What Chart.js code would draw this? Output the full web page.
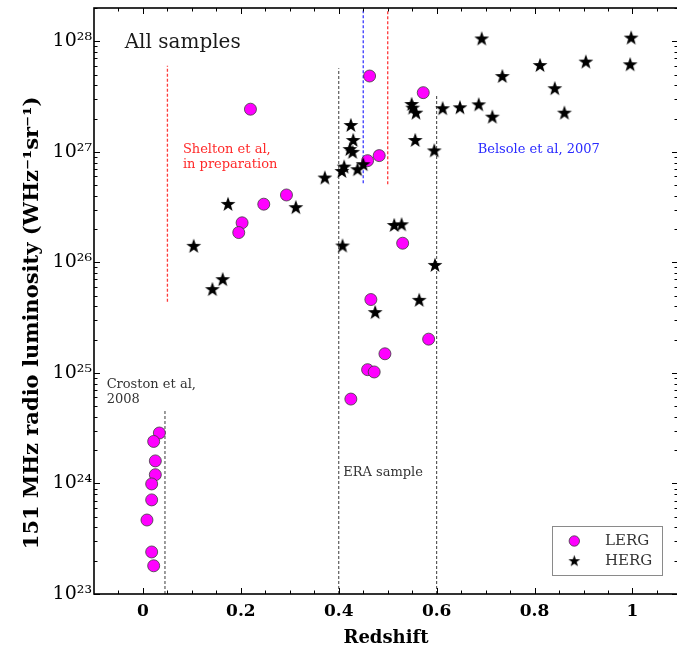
<!DOCTYPE html>
<html><head><meta charset="utf-8">
<script src="https://cdn.jsdelivr.net/npm/chart.js@4/dist/chart.umd.min.js"></script>
<style>html,body{margin:0;padding:0;overflow:hidden;background:#fff;width:677px;height:650px}</style>
</head><body>
<canvas id="c" width="690" height="650" style="display:block;width:690px;height:650px"></canvas>
<script>
// ---- data ----
const seriesNames = ['LERG', 'HERG'];
const lergZ = [0.2196, 0.2468, 0.2932, 0.2025, 0.1957,
  0.463, 0.5726, 0.4589, 0.4826, 0.5305, 0.4656, 0.5836, 0.4943, 0.4589, 0.4724, 0.4247,
  0.0335, 0.0219, 0.0253, 0.0253, 0.0178, 0.0178, 0.0082, 0.0178, 0.0219];
const lergL = [2.43e27, 3.36e26, 4.07e26, 2.28e26, 1.86e26,
  4.85e27, 3.43e27, 8.32e26, 9.24e26, 1.49e26, 4.61e25, 2.02e25, 1.49e25, 1.07e25, 1.02e25, 5.8e24,
  2.86e24, 2.40e24, 1.60e24, 1.20e24, 9.9e23, 7.1e23, 4.67e23, 2.40e23, 1.80e23];
const hergZ = [0.1738, 0.3123, 0.1037, 0.163, 0.1419, 0.3716,
  0.692, 0.9973, 0.9953, 0.9047, 0.8112, 0.7342, 0.8413, 0.861, 0.7137, 0.6859, 0.6476, 0.6122,
  0.5489, 0.5509, 0.5577, 0.5562, 0.5951, 0.4247, 0.4295, 0.4227, 0.4282, 0.4499, 0.4384, 0.411,
  0.4063, 0.5133, 0.5284, 0.4077, 0.5965, 0.5644, 0.4744];
const hergL = [3.38e26, 3.16e26, 1.41e26, 7.05e25, 5.73e25, 5.85e26,
  1.06e28, 1.08e28, 6.19e27, 6.55e27, 6.1e27, 4.85e27, 3.76e27, 2.26e27, 2.08e27, 2.69e27, 2.53e27, 2.48e27,
  2.71e27, 2.51e27, 2.26e27, 1.28e27, 1.03e27, 1.75e27, 1.28e27, 1.06e27, 1.0e27, 7.73e26, 6.96e26, 7.35e26,
  6.71e26, 2.18e26, 2.21e26, 1.42e26, 9.48e25, 4.58e25, 3.55e25];
const xTickValues = [0, 0.2, 0.4, 0.6, 0.8, 1];
const xTickLabels = ['0', '0.2', '0.4', '0.6', '0.8', '1'];
const yTickValues = [1e23, 1e24, 1e25, 1e26, 1e27, 1e28];
const yTickLabels = ['10²³', '10²⁴', '10²⁵', '10²⁶', '10²⁷', '10²⁸'];
// sample boundary lines: redshift, luminosity from, luminosity to
const refLineZ    = [0.05,   0.5,    0.45,   0.4,    0.6,    0.045];
const refLineFrom = [4.4e25, 5.1e26, 5.2e26, 1e23,   1e23,   1e23];
const refLineTo   = [6e27,   1.9e28, 1.9e28, 5.7e27, 3.2e27, 4.7e24];
// text labels: text lines, redshift, luminosity
const noteText = [['All samples'], ['Shelton et al,', 'in preparation'], ['Belsole et al, 2007'], ['Croston et al,', '2008'], ['ERA sample']];
const noteZ = [-0.0374, 0.0816, 0.6838, -0.0742, 0.409];
const noteL = [9.6e27, 1.04e27, 1.04e27, 7.8e24, 1.25e24];

// ---- styles ----
const refLineColor = ['#ff3a3a', '#ff3a3a', '#3a3aff', '#3a3a3a', '#3a3a3a', '#3a3a3a'];
const refLineWidth = [1.3, 1.3, 1.3, 1, 1, 1];
const noteColor = ['#1a1a1a', '#ff2a2a', '#2a2aff', '#333333', '#333333'];
const noteFont = ['20px "DejaVu Serif"', '13px "DejaVu Serif"', '13px "DejaVu Serif"', '13px "DejaVu Serif"', '13px "DejaVu Serif"'];

function makeStar(R, color) {
  const size = Math.ceil(2 * R + 2);
  const c = document.createElement('canvas');
  c.width = c.height = size;
  const g = c.getContext('2d');
  g.translate(size / 2, size / 2 + R * 0.08);
  g.beginPath();
  for (let i = 0; i < 10; i++) {
    const a = -Math.PI / 2 + i * Math.PI / 5;
    const rr = (i % 2) ? R * 0.4 : R;
    g.lineTo(rr * Math.cos(a), rr * Math.sin(a));
  }
  g.closePath();
  g.fillStyle = color; g.fill();
  return c;
}
const starImg = makeStar(7.8, '#000');
const starSmall = makeStar(6.2, '#000');

const datasets = [
  { label: seriesNames[0], data: lergZ.map((z, i) => ({ x: z, y: lergL[i] })),
    pointStyle: 'circle', pointRadius: 6, pointHoverRadius: 6,
    backgroundColor: '#ff00ff', borderColor: '#3c3c3c', borderWidth: 0.8, order: 2 },
  { label: seriesNames[1], data: hergZ.map((z, i) => ({ x: z, y: hergL[i] })),
    pointStyle: starImg, pointRadius: 7, backgroundColor: '#000', borderColor: '#000', order: 1 }
];
refLineZ.forEach((z, i) => {
  datasets.push({ label: 'ref' + i, isRef: true, data: [{ x: z, y: refLineFrom[i] }, { x: z, y: refLineTo[i] }],
    showLine: true, pointRadius: 0, borderColor: refLineColor[i], borderWidth: refLineWidth[i], borderDash: [3, 2], order: 5 });
});

const MAJ = 6, MIN = 3.5;
const framePlugin = {
  id: 'frame',
  afterDatasetsDraw(chart) {
    const { ctx, chartArea: a, scales } = chart;
    const xs = scales.x, ys = scales.y;
    ctx.save();
    ctx.strokeStyle = '#000';
    ctx.lineWidth = 1;
    ctx.beginPath();
    for (let v = -0.1; v <= xs.max + 1e-9; v += 0.05) {
      const vv = Math.round(v * 100) / 100;
      if (vv <= xs.min) continue;
      const px = Math.round(xs.getPixelForValue(vv)) + 0.5;
      const major = xTickValues.some(t => Math.abs(t - vv) < 1e-6);
      const L = major ? MAJ : MIN;
      ctx.moveTo(px, a.bottom); ctx.lineTo(px, a.bottom - L);
      ctx.moveTo(px, a.top); ctx.lineTo(px, a.top + L);
    }
    for (let e = 23; e <= 28; e++) {
      for (let m = 1; m <= 9; m++) {
        const v = m * Math.pow(10, e);
        if (v > ys.max) break;
        const py = Math.round(ys.getPixelForValue(v)) + 0.5;
        const L = m === 1 ? MAJ : MIN;
        ctx.moveTo(a.left, py); ctx.lineTo(a.left + L, py);
        ctx.moveTo(a.right, py); ctx.lineTo(a.right - L, py);
      }
    }
    ctx.stroke();
    ctx.lineWidth = 1.6;
    ctx.strokeRect(a.left, a.top, a.right - a.left, a.bottom - a.top);
    ctx.restore();
  },
  afterDraw(chart) {
    const { ctx, scales } = chart;
    ctx.save();
    ctx.textBaseline = 'middle';
    ctx.textAlign = 'left';
    noteText.forEach((lines, i) => {
      const px = scales.x.getPixelForValue(noteZ[i]);
      const py = scales.y.getPixelForValue(noteL[i]);
      ctx.font = noteFont[i];
      ctx.fillStyle = noteColor[i];
      lines.forEach((t, k) => ctx.fillText(t, px, py + k * 15));
    });
    // legend
    const bx = 552.5, by = 526.5, bw = 110, bh = 49;
    ctx.fillStyle = '#fff';
    ctx.fillRect(bx, by, bw, bh);
    ctx.strokeStyle = '#8a8a8a';
    ctx.lineWidth = 1;
    ctx.strokeRect(bx, by, bw, bh);
    const items = chart.data.datasets.filter(d => !d.isRef);
    ctx.font = '15px "DejaVu Serif"';
    items.forEach((d, k) => {
      const cy = by + 14.5 + k * 19.7;
      const cx = bx + 21.8;
      if (d.pointStyle === 'circle') {
        ctx.beginPath(); ctx.arc(cx, cy, 5.2, 0, Math.PI * 2);
        ctx.fillStyle = d.backgroundColor; ctx.fill();
        ctx.strokeStyle = d.borderColor; ctx.lineWidth = 0.8; ctx.stroke();
      } else {
        ctx.drawImage(starSmall, cx - starSmall.width / 2, cy - starSmall.height / 2);
      }
      ctx.fillStyle = '#333';
      ctx.fillText(d.label, bx + 52.5, cy + 0.5);
    });
    ctx.restore();
  }
};

new Chart(document.getElementById('c'), {
  type: 'scatter',
  data: { datasets },
  options: {
    responsive: false, animation: false, devicePixelRatio: 1,
    layout: { padding: { top: 7, right: 12, bottom: 0, left: 0 } },
    plugins: { legend: { display: false }, tooltip: { enabled: false } },
    scales: {
      x: {
        type: 'linear', min: -0.1, max: 1.093,
        grid: { display: false, drawTicks: false }, border: { display: false },
        afterBuildTicks: s => { s.ticks = xTickValues.map(v => ({ value: v })); },
        afterFit: s => { s.height = 56; s.paddingLeft = 0; s.paddingRight = 0; },
        ticks: { autoSkip: false, maxRotation: 0, padding: 7,
          callback: (v, i) => xTickLabels[i],
          font: { family: 'DejaVu Serif', size: 17, weight: 'bold' }, color: '#000' },
        title: { display: true, text: 'Redshift', color: '#000',
          font: { family: 'DejaVu Serif', size: 18, weight: 'bold' }, padding: { top: 0, bottom: 1 } }
      },
      y: {
        type: 'logarithmic', min: 1e23, max: 2e28,
        grid: { display: false, drawTicks: false }, border: { display: false },
        afterBuildTicks: s => { s.ticks = yTickValues.map(v => ({ value: v, major: true })); },
        afterFit: s => { s.width = 94; s.paddingTop = 0; s.paddingBottom = 0; },
        ticks: { autoSkip: false, padding: 2,
          callback: (v, i) => yTickLabels[i],
          font: { family: 'DejaVu Serif', size: 19, lineHeight: 0.6 }, color: '#000' },
        title: { display: true, text: '151 MHz radio luminosity (WHz⁻¹sr⁻¹)\u00a0\u00a0\u00a0\u00a0\u00a0\u00a0', color: '#000',
          font: { family: 'DejaVu Serif', size: 21, weight: 'bold' }, padding: { top: 20, bottom: 0 } }
      }
    }
  },
  plugins: [framePlugin]
});
</script>
</body></html>
